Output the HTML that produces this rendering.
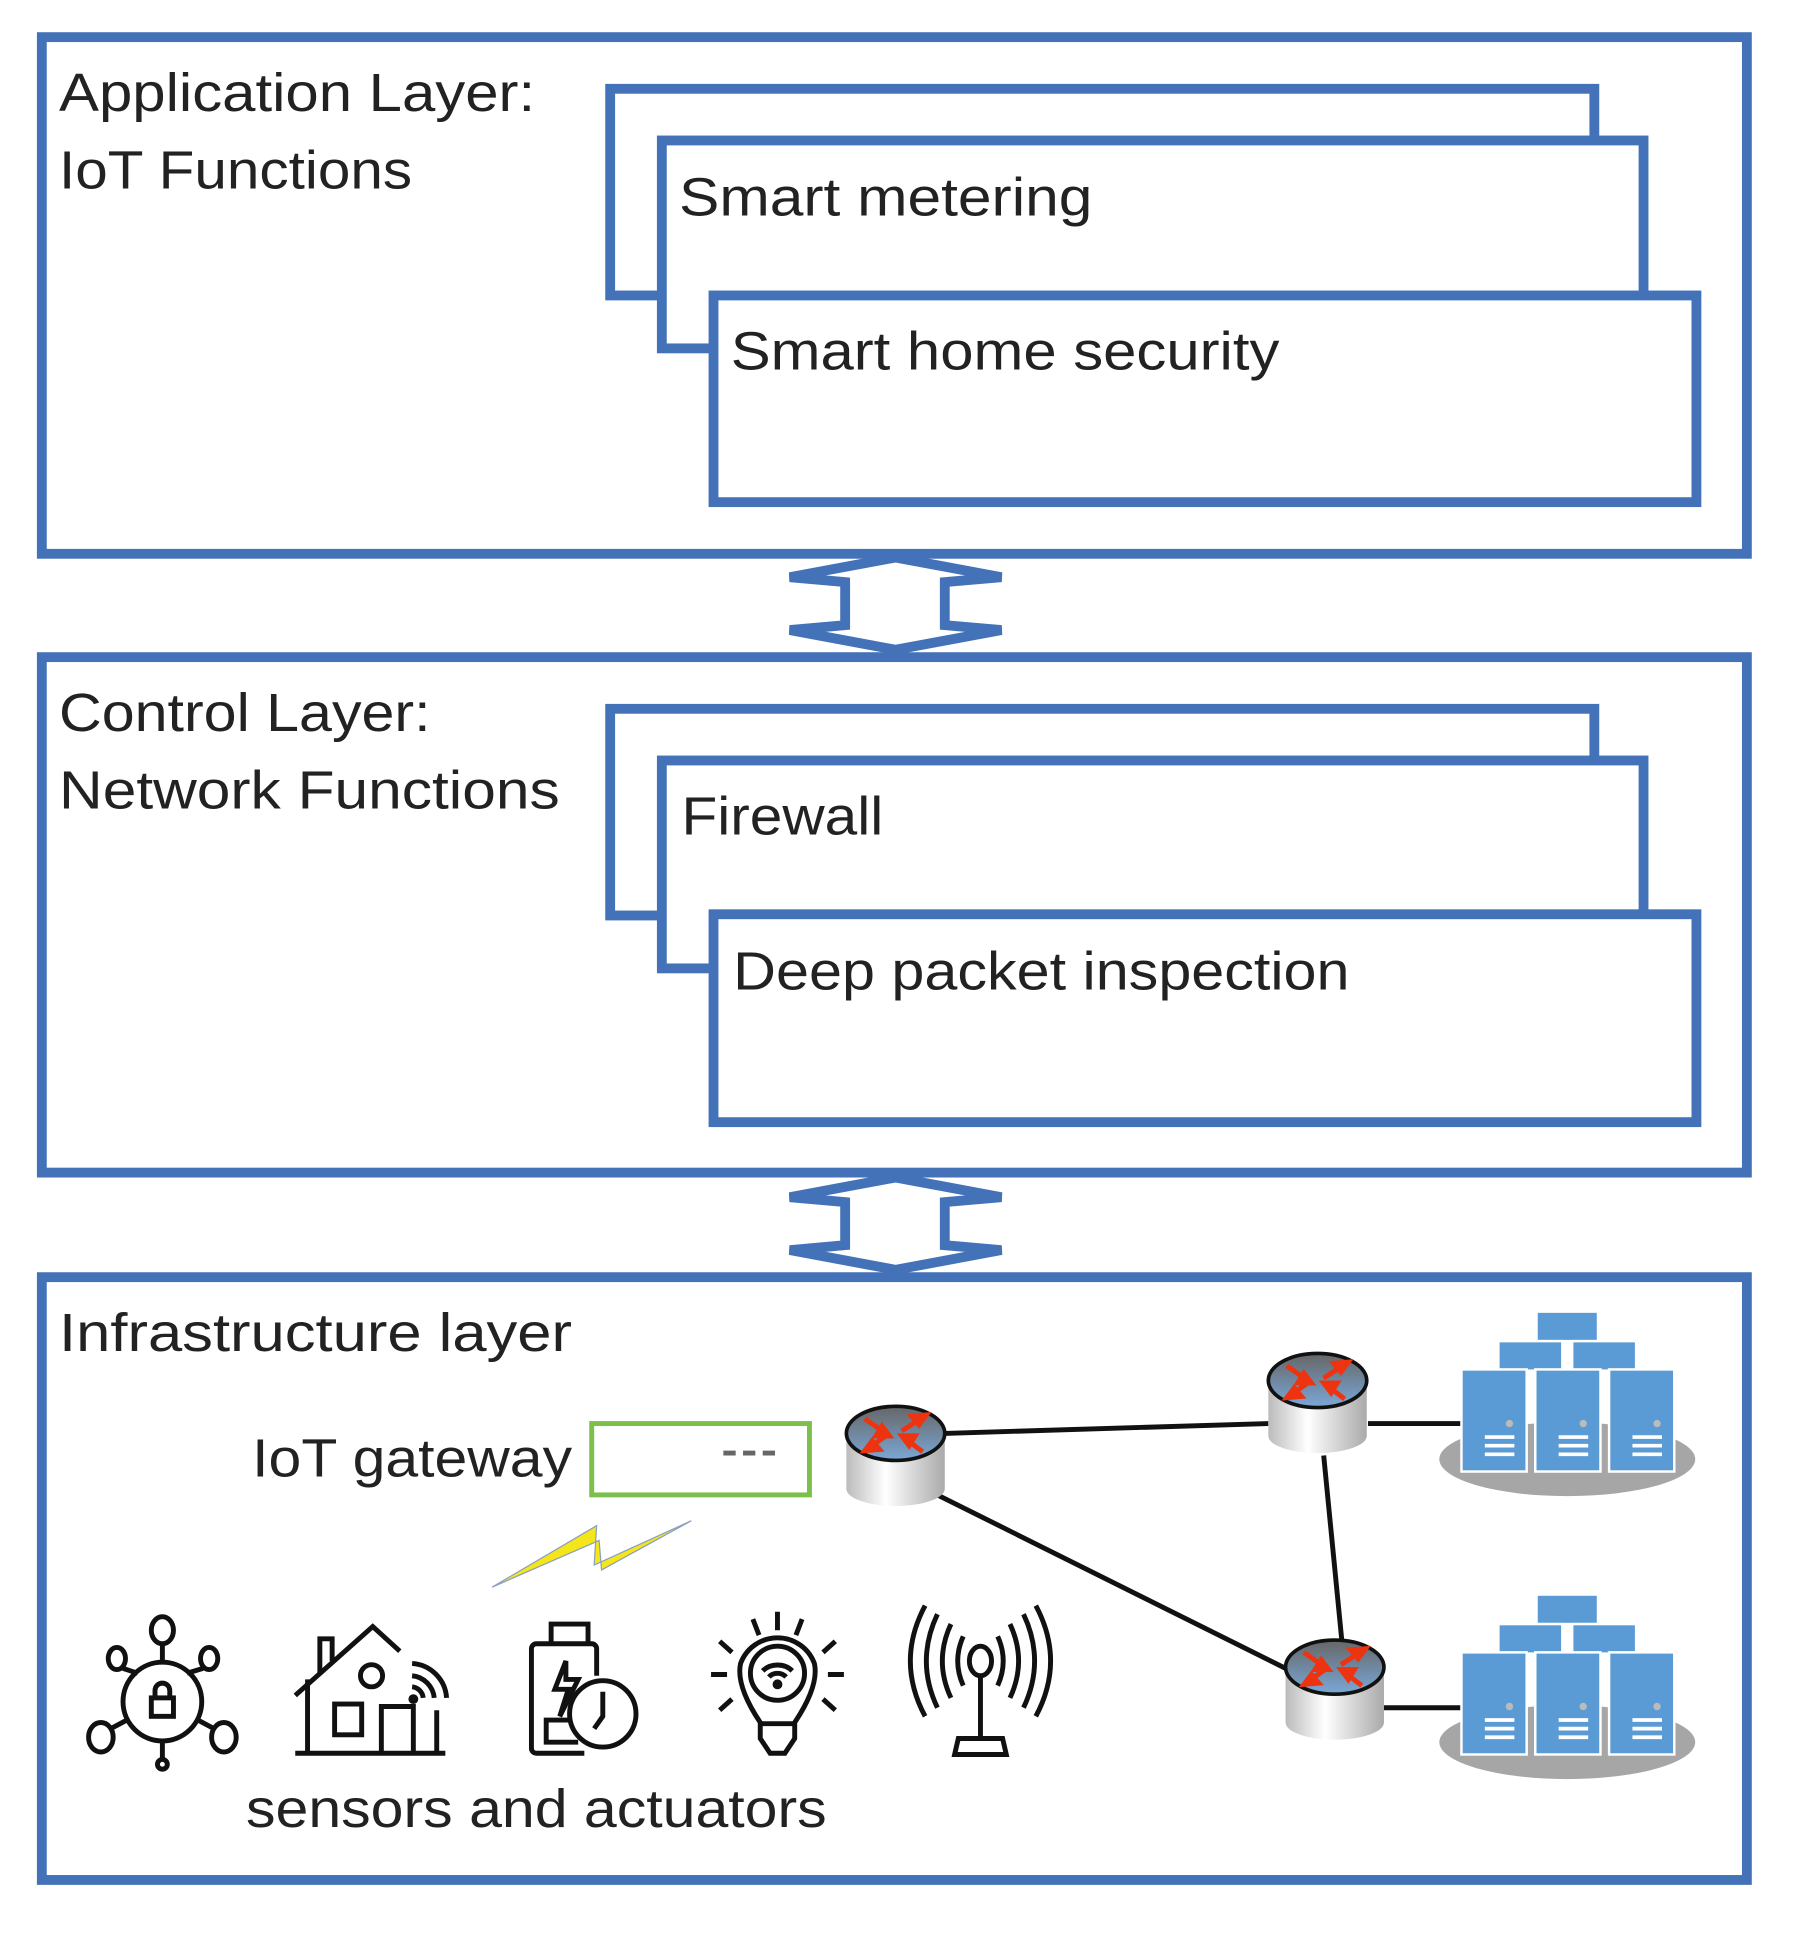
<!DOCTYPE html>
<html><head><meta charset="utf-8"><style>html,body{margin:0;padding:0;background:#fff}svg{display:block}</style></head>
<body>
<svg width="1801" height="1938" viewBox="0 0 1464 1575" xmlns="http://www.w3.org/2000/svg" font-family="'Liberation Sans', sans-serif" fill="none">
<defs>
<linearGradient id="cyl" x1="0" x2="1" y1="0" y2="0"><stop offset="0" stop-color="#bbb"/><stop offset="0.4" stop-color="#fff"/><stop offset="1" stop-color="#aaa"/></linearGradient>
<linearGradient id="top" x1="0" x2="0" y1="0" y2="1"><stop offset="0" stop-color="#666"/><stop offset="1" stop-color="#7aa8d8"/></linearGradient>
<g id="router">
<path d="M-40,0 V45 A40,14 0 0 0 40,45 V0 Z" fill="url(#cyl)"/>
<ellipse cx="0" cy="0" rx="40" ry="22" fill="url(#top)" stroke="#111" stroke-width="3"/>
<g stroke="#e31" stroke-width="4" fill="#e31">
<line x1="-25" y1="-12" x2="-5" y2="2"/><line x1="5" y1="-2" x2="25" y2="-15"/><line x1="-25" y1="14" x2="-5" y2="0"/><line x1="5" y1="2" x2="22" y2="15"/>
<path d="M25,-15 l-12,1 l6,7z"/><path d="M-25,14 l12,-1 l-6,-7z"/><path d="M-5,2 l-11,0 l5,-8z"/><path d="M5,2 l11,0 l-5,8z"/>
</g>
</g>
<g id="servers">
<ellipse cx="104" cy="120" rx="104" ry="30" fill="#a6a6a6"/>
<g fill="#5b9bd5" stroke="#fff" stroke-width="2">
<rect x="79" y="0" width="50" height="24"/>
<rect x="48" y="24" width="52" height="24"/><rect x="108" y="24" width="52" height="24"/>
<rect x="18" y="47" width="53" height="83"/><rect x="78" y="47" width="53" height="83"/><rect x="138" y="47" width="53" height="83"/>
</g>
<g stroke="#fff" stroke-width="3">
<path d="M37,102h24M37,109h24M37,116h24M97,102h24M97,109h24M97,116h24M157,102h24M157,109h24M157,116h24"/>
</g>
<g fill="#bbb"><circle cx="57" cy="91" r="3"/><circle cx="117" cy="91" r="3"/><circle cx="177" cy="91" r="3"/></g>
</g>
<path id="arrow" d="M728,0 L814,16 L768,20 L768,55 L814,59 L728,75 L642,59 L687,55 L687,20 L642,16 Z"/>
</defs>

<g stroke="#4472b8" stroke-width="8" fill="#fff">
<rect x="34" y="30" width="1386" height="420"/>
<rect x="496" y="72" width="800" height="168"/>
<rect x="538" y="114" width="798" height="169"/>
<rect x="580" y="240" width="799" height="168"/>
<rect x="34" y="534" width="1386" height="419"/>
<rect x="496" y="576" width="800" height="168"/>
<rect x="538" y="618" width="798" height="169"/>
<rect x="580" y="743" width="799" height="169"/>
<rect x="34" y="1038" width="1386" height="490"/>
<use href="#arrow" transform="translate(0,453)" stroke-linejoin="miter"/>
<use href="#arrow" transform="translate(0,957)"/>
</g>

<g fill="#222" font-size="44">
<text x="48" y="90" textLength="387" lengthAdjust="spacingAndGlyphs">Application Layer:</text>
<text x="48" y="153" textLength="287" lengthAdjust="spacingAndGlyphs">IoT Functions</text>
<text x="552" y="175" textLength="336" lengthAdjust="spacingAndGlyphs">Smart metering</text>
<text x="594" y="300" textLength="446" lengthAdjust="spacingAndGlyphs">Smart home security</text>
<text x="48" y="594" textLength="302" lengthAdjust="spacingAndGlyphs">Control Layer:</text>
<text x="48" y="657" textLength="407" lengthAdjust="spacingAndGlyphs">Network Functions</text>
<text x="554" y="678" textLength="164" lengthAdjust="spacingAndGlyphs">Firewall</text>
<text x="596" y="804" textLength="501" lengthAdjust="spacingAndGlyphs">Deep packet inspection</text>
<text x="48" y="1098" textLength="417" lengthAdjust="spacingAndGlyphs">Infrastructure layer</text>
<text x="205" y="1200" textLength="260" lengthAdjust="spacingAndGlyphs">IoT gateway</text>
<text x="200" y="1485" textLength="472" lengthAdjust="spacingAndGlyphs">sensors and actuators</text>
</g>

<rect x="481" y="1157" width="177" height="58" stroke="#7cbf4a" stroke-width="4" fill="#fff"/>
<path d="M588,1181h10M604,1181h10M620,1181h10" stroke="#666" stroke-width="4"/>
<path d="M400,1290 L485,1240 L483,1272 L562,1236 L489,1276 L487,1252 Z" fill="#f5e61c" stroke="#8aa0c0" stroke-width="1"/>

<g stroke="#111" stroke-width="4">
<line x1="768" y1="1165" x2="1031" y2="1157"/>
<line x1="762" y1="1215" x2="1045" y2="1356"/>
<line x1="1076" y1="1183" x2="1091" y2="1336"/>
<line x1="1112" y1="1157" x2="1195" y2="1157"/>
<line x1="1125" y1="1388" x2="1188" y2="1388"/>
</g>
<use href="#router" transform="translate(728,1165)"/>
<use href="#router" transform="translate(1071,1122)"/>
<use href="#router" transform="translate(1085,1355)"/>
<use href="#servers" transform="translate(1170,1066)"/>
<use href="#servers" transform="translate(1170,1296)"/>

<g stroke="#111" stroke-width="4" fill="none">
<!-- hub -->
<circle cx="132" cy="1383" r="32"/>
<ellipse cx="132" cy="1325" rx="9" ry="11"/><line x1="132" y1="1336" x2="132" y2="1351"/>
<ellipse cx="95" cy="1348" rx="7" ry="9"/><line x1="100" y1="1356" x2="112" y2="1360"/>
<ellipse cx="170" cy="1348" rx="7" ry="9"/><line x1="165" y1="1356" x2="152" y2="1360"/>
<ellipse cx="82" cy="1412" rx="10" ry="12"/><line x1="90" y1="1405" x2="105" y2="1397"/>
<ellipse cx="182" cy="1412" rx="10" ry="12"/><line x1="174" y1="1405" x2="159" y2="1397"/>
<line x1="132" y1="1415" x2="132" y2="1430"/><circle cx="132" cy="1434" r="4"/>
<rect x="123" y="1380" width="18" height="15"/><path d="M126,1380v-6a6,6 0 0 1 12,0v6"/>
<!-- house -->
<path d="M240,1378 L303,1322 L325,1342"/>
<path d="M260,1360 V1332 H270 V1350"/>
<path d="M250,1365 V1425 M240,1425 H362 M355,1390 V1425"/>
<rect x="272" y="1385" width="22" height="25"/><path d="M310,1425 V1387 H336 V1425"/>
<circle cx="302" cy="1362" r="9"/>
<path d="M335,1352 a30,30 0 0 1 28,28 M335,1362 a20,20 0 0 1 18,18 M335,1371 a10,10 0 0 1 9,9"/>
<circle cx="336" cy="1381" r="2" fill="#111"/>
<!-- battery -->
<path d="M485,1362 V1340 a4,4 0 0 0 -4,-4 H436 a4,4 0 0 0 -4,4 V1421 a4,4 0 0 0 4,4 H475"/>
<path d="M448,1336 V1320 H478 V1336"/>
<path d="M460,1350 L451,1373 H462 L455,1395 L470,1365 H460 Z"/>
<path d="M462,1398 H444 V1416 H470"/>
<circle cx="490" cy="1393" r="27" fill="#fff"/>
<path d="M490,1375 V1395 L483,1405"/>
<!-- bulb -->
<path d="M618,1400 Q598,1370 602,1352 A32,32 0 0 1 662,1352 Q666,1370 646,1400 V1413 L638,1425 H626 L618,1413 Z"/>
<circle cx="632" cy="1360" r="22"/>
<line x1="618" y1="1401" x2="646" y2="1401"/>
<path d="M620,1358 a16,14 0 0 1 24,0 M625,1363 a9,8 0 0 1 14,0"/>
<circle cx="632" cy="1369" r="2"/>
<path d="M632,1310V1325 M612,1316l5,13 M652,1316l-5,13 M585,1334l10,9 M679,1334l-10,9 M578,1361h13 M673,1361h13 M585,1390l10,-9 M679,1390l-10,-9"/>
<!-- antenna -->
<ellipse cx="797" cy="1350" rx="9" ry="12"/>
<line x1="797" y1="1362" x2="797" y2="1413"/>
<path d="M776,1426 L779,1413 H815 L818,1426 Z"/>
<path d="M783,1330 q-9,20 0,40 M811,1330 q9,20 0,40 M773,1320 q-14,30 0,60 M821,1320 q14,30 0,60 M762,1312 q-18,38 0,76 M832,1312 q18,38 0,76 M752,1305 q-24,45 0,90 M842,1305 q24,45 0,90"/>
</g>
</svg>
</body></html>
